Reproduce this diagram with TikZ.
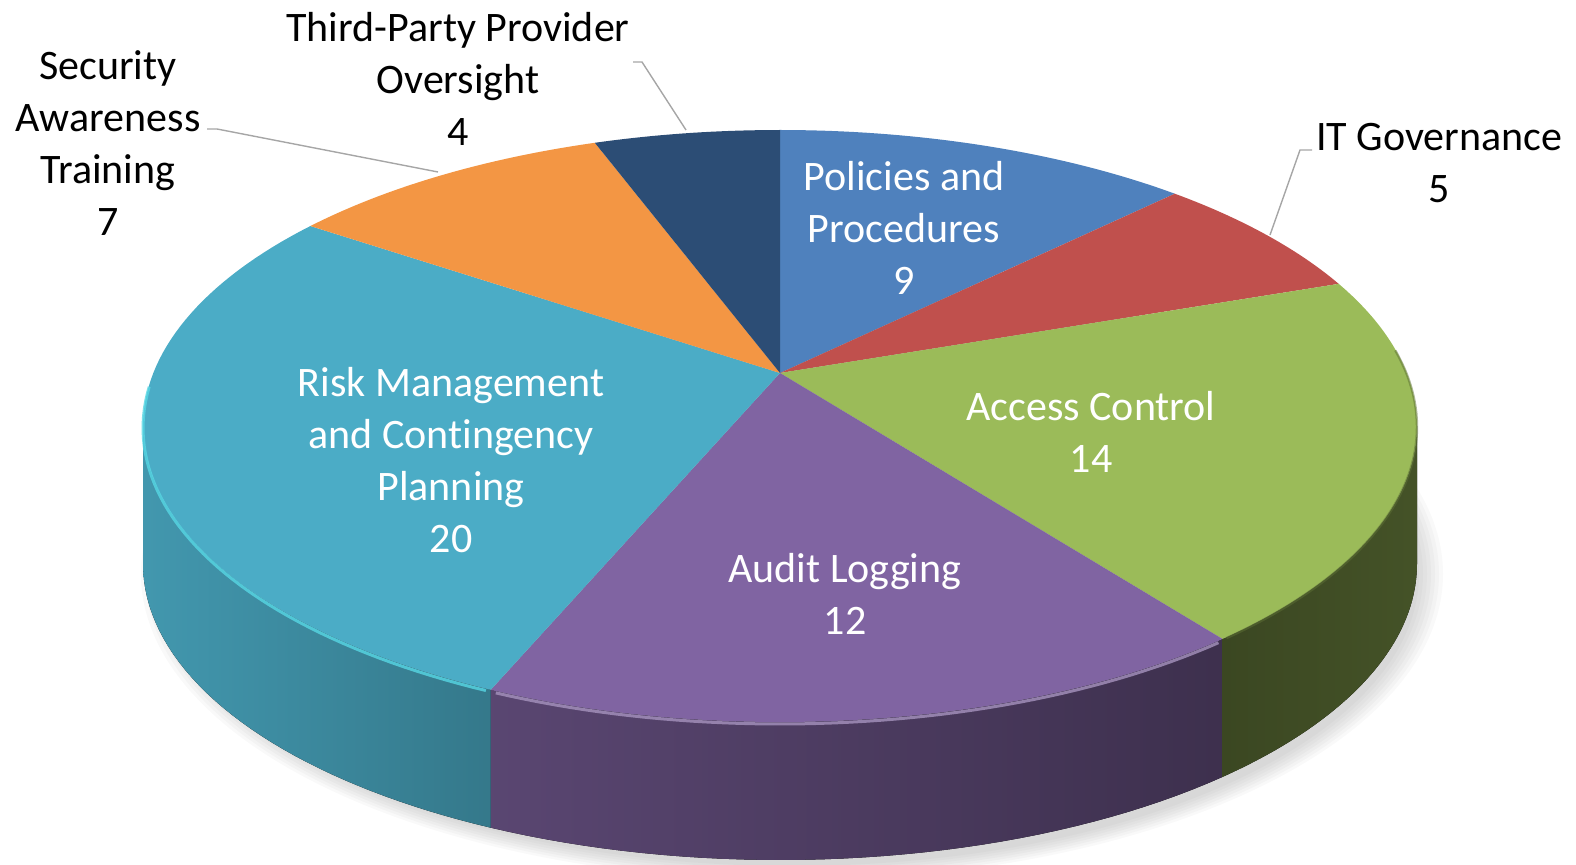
\documentclass[tikz,border=0pt]{standalone}
\usepackage{fontspec}
\setmainfont{Carlito}[Ligatures={CommonOff,ContextualOff}]
\definecolor{cPol}{HTML}{4F81BD}
\definecolor{cIT}{HTML}{C0504D}
\definecolor{cAcc}{HTML}{9BBB59}
\definecolor{cAud}{HTML}{8064A2}
\definecolor{cRisk}{HTML}{4BACC6}
\definecolor{cSec}{HTML}{F39644}
\definecolor{cTP}{HTML}{2C4D75}
\definecolor{leadgray}{HTML}{A6A6A6}
\begin{document}
\begin{tikzpicture}[x=0.5pt,y=-0.5pt,
  declare function={ex(\t)=780+637*cos(\t); ey(\t)=426-296*sin(\t); eb(\t)=564-296*sin(\t);},
  lbl/.style={align=center, font=\fontsize{21}{26}\selectfont, inner sep=0pt},
  wlbl/.style={lbl, text=white},
  leader/.style={draw=leadgray, line width=0.7pt},
  slice/.style={line width=0pt}]
\useasboundingbox (0,0) rectangle (1576,865);
% soft shadow
\foreach \r in {0,4,...,24}{
  \fill[black,opacity=0.025] (792,574) ellipse[x radius={627+\r}, y radius={292+\r*0.6}];
}
% side faces
\fill[left color=cRisk!88!black, right color=cRisk!70!black]
  plot[domain=180:243,samples=40,variable=\t] ({ex(\t)},{ey(\t)})
  -- plot[domain=243:180,samples=40,variable=\t] ({ex(\t)},{eb(\t)}) -- cycle;
\fill[left color=cAud!70!black, right color=cAud!48!black]
  plot[domain=243:314,samples=40,variable=\t] ({ex(\t)},{ey(\t)})
  -- plot[domain=314:243,samples=40,variable=\t] ({ex(\t)},{eb(\t)}) -- cycle;
\fill[left color=cAcc!38!black, right color=cAcc!44!black]
  plot[domain=314:360,samples=40,variable=\t] ({ex(\t)},{ey(\t)})
  -- plot[domain=360:314,samples=40,variable=\t] ({ex(\t)},{eb(\t)}) -- cycle;
% top slices
\coordinate (V) at (780,373);
\fill[cPol] (V) -- plot[domain=90:51.7,samples=40,variable=\t] ({ex(\t)},{ey(\t)}) -- cycle;
\fill[cIT] (V) -- plot[domain=51.7:28.7,samples=30,variable=\t] ({ex(\t)},{ey(\t)}) -- cycle;
\fill[cAcc] (V) -- plot[domain=28.7:-46,samples=60,variable=\t] ({ex(\t)},{ey(\t)}) -- cycle;
\fill[cAud] (V) -- plot[domain=314:243,samples=60,variable=\t] ({ex(\t)},{ey(\t)}) -- cycle;
\fill[cRisk] (V) -- plot[domain=243:137.5,samples=80,variable=\t] ({ex(\t)},{ey(\t)}) -- cycle;
\fill[cSec] (V) -- plot[domain=137.5:106.9,samples=30,variable=\t] ({ex(\t)},{ey(\t)}) -- cycle;
\fill[cTP] (V) -- plot[domain=106.9:90,samples=20,variable=\t] ({ex(\t)},{ey(\t)}) -- cycle;
% rim highlights
\draw[line width=1.5pt, cRisk!60!cyan!80!white, opacity=0.8]
  plot[domain=172:242.5,samples=50,variable=\t] ({ex(\t)},{ey(\t)+2});
\draw[line width=1.5pt, cAud!70!white, opacity=0.8]
  plot[domain=243.5:313.5,samples=50,variable=\t] ({ex(\t)},{ey(\t)+2});
\draw[line width=1.2pt, cAcc!60!black, opacity=0.5]
  plot[domain=314.5:375,samples=50,variable=\t] ({ex(\t)},{ey(\t)+1});
% inside labels
\node[wlbl] (pol) at (904,228) {Policies and\\Procedures\\9};
\node[wlbl] (acc) at (1091,432) {Access Control\\14};
\node[wlbl] (aud) at (845,594) {Audit Logging\\12};
\node[wlbl] (risk) at (451,460) {Risk Management\\and Contingency\\Planning\\20};
% outside labels
\node[lbl] (sec) at (108,143) {Security\\Awareness\\Training\\7};
\node[lbl] (tp) at (458,79) {Third-Party Provider\\Oversight\\4};
\node[lbl] (it) at (1439,163) {IT Governance\\5};
% leaders
\coordinate (secA) at (207,129);
\coordinate (secB) at (217,129);
\coordinate (secP) at (438,172);
\coordinate (tpA) at (633,62);
\coordinate (tpB) at (642,62);
\coordinate (tpP) at (686,130);
\coordinate (itA) at (1312,150);
\coordinate (itB) at (1300,150);
\coordinate (itP) at (1270,235);
\draw[leader] (secA) -- (secB) -- (secP);
\draw[leader] (tpA) -- (tpB) -- (tpP);
\draw[leader] (itA) -- (itB) -- (itP);
\end{tikzpicture}
\end{document}
